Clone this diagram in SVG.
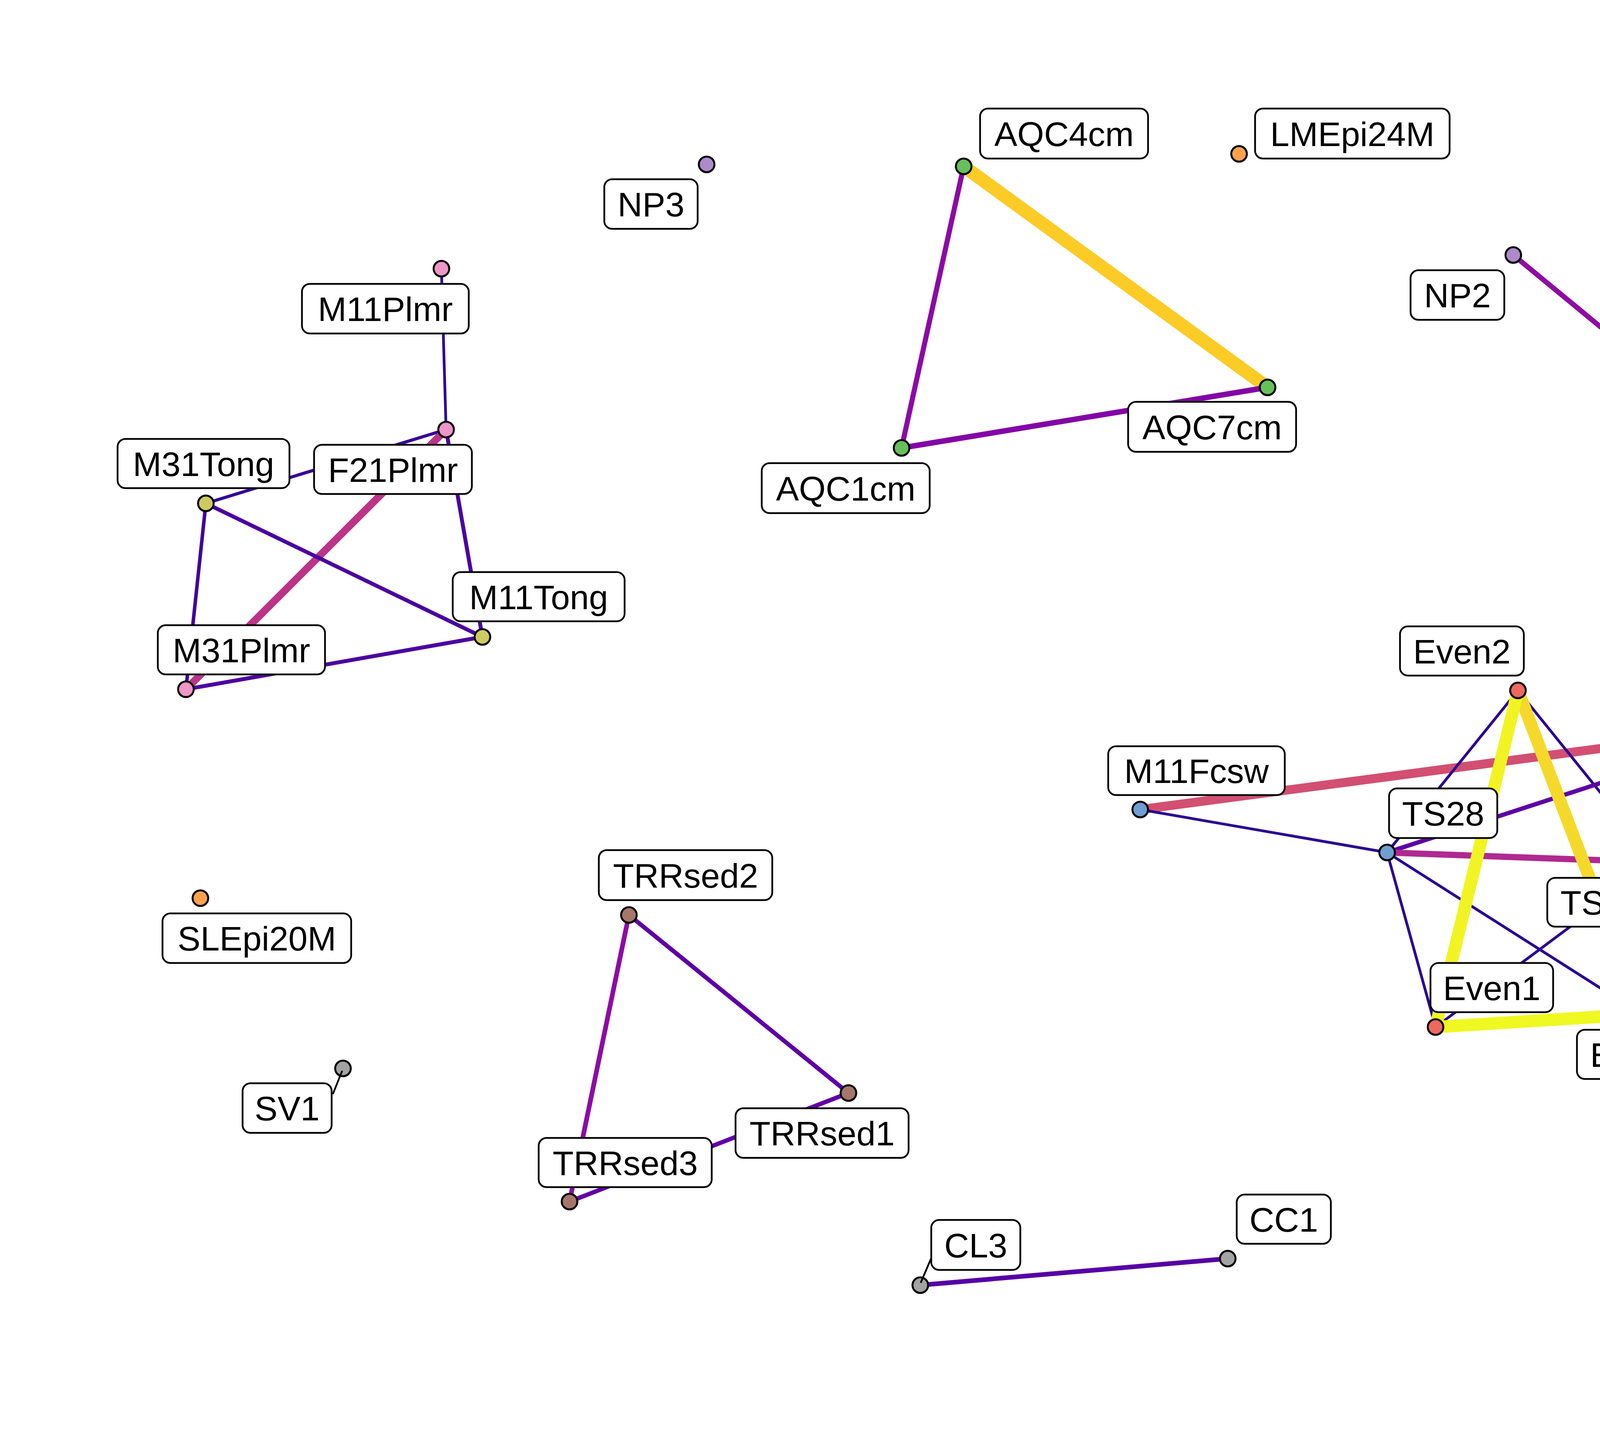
<svg xmlns="http://www.w3.org/2000/svg" width="6000" height="3708" viewBox="0 0 6000 3708">
<style>
.lbl rect{fill:#fff;stroke:#000;stroke-width:4.5}
.lbl text,.lg text{font-family:"Liberation Sans",Arial,Helvetica,sans-serif;fill:#000}
.lbl text{font-size:88px;text-anchor:middle}
.lg .title{font-size:90px}
.lg .item{font-size:72px}
.pt{stroke:#000;stroke-width:5}
.seg{stroke:#000;stroke-width:4.5;fill:none}
.e{fill:none;stroke-linecap:butt}
.feces{fill:#6F9FD0}.fresh{fill:#FFA24E}.creek{fill:#66C05B}.mock{fill:#EE6860}.ocean{fill:#AD8BC8}.sed{fill:#A7766B}.skin{fill:#EE96C8}.soil{fill:#A3A3A3}.tongue{fill:#CCCA60}
.thin{stroke:#2A0593;stroke-width:7}
</style>
<defs>
<linearGradient id="plasma" x1="0" y1="1" x2="0" y2="0">
<stop offset="0" stop-color="#0D0887"/>
<stop offset="0.1" stop-color="#41049D"/>
<stop offset="0.2" stop-color="#6A00A8"/>
<stop offset="0.3" stop-color="#8F0DA4"/>
<stop offset="0.4" stop-color="#B12A90"/>
<stop offset="0.5" stop-color="#CC4778"/>
<stop offset="0.6" stop-color="#E16462"/>
<stop offset="0.7" stop-color="#F2844B"/>
<stop offset="0.8" stop-color="#FCA636"/>
<stop offset="0.9" stop-color="#FCCE25"/>
<stop offset="1" stop-color="#F0F921"/>
</linearGradient>
</defs>
<rect x="0" y="0" width="6000" height="3708" fill="#fff"/>
<g id="edges">
<line class="e" x1="1130" y1="688" x2="1142" y2="1100" stroke="#2D0594" stroke-width="7"/>
<line class="e" x1="1142" y1="1100" x2="527" y2="1289" stroke="#350498" stroke-width="8"/>
<line class="e" x1="1142" y1="1100" x2="476" y2="1765" stroke="#BB3488" stroke-width="19"/>
<line class="e" x1="1142" y1="1100" x2="1235" y2="1631" stroke="#4A02A0" stroke-width="10"/>
<line class="e" x1="527" y1="1289" x2="1235" y2="1631" stroke="#4A02A0" stroke-width="10"/>
<line class="e" x1="527" y1="1289" x2="476" y2="1765" stroke="#3F049C" stroke-width="9"/>
<line class="e" x1="476" y1="1765" x2="1235" y2="1631" stroke="#4C02A1" stroke-width="10"/>
<line class="e" x1="2467" y1="426" x2="3245" y2="992" stroke="#FCCB26" stroke-width="34"/>
<line class="e" x1="2467" y1="426" x2="2308" y2="1147" stroke="#8B0AA5" stroke-width="13"/>
<line class="e" x1="2308" y1="1147" x2="3245" y2="992" stroke="#8305A7" stroke-width="14"/>
<line class="e" x1="3874" y1="653" x2="4426" y2="1108" stroke="#8F0DA4" stroke-width="13"/>
<line class="e" x1="2919" y1="2073" x2="4556" y2="1856" stroke="#D24F72" stroke-width="23"/>
<line class="e thin" x1="2919" y1="2073" x2="3551" y2="2183"/>
<line class="e thin" x1="3886" y1="1768" x2="3551" y2="2183"/>
<line class="e thin" x1="3886" y1="1768" x2="4241" y2="2208"/>
<line class="e thin" x1="4241" y1="2208" x2="4556" y2="1856"/>
<line class="e thin" x1="3551" y1="2183" x2="3675" y2="2630"/>
<line class="e thin" x1="3551" y1="2183" x2="4202" y2="2597"/>
<line class="e thin" x1="4241" y1="2208" x2="4202" y2="2597"/>
<line class="e thin" x1="4241" y1="2208" x2="3675" y2="2630"/>
<line class="e" x1="3551" y1="2183" x2="4556" y2="1856" stroke="#5E01A6" stroke-width="11"/>
<line class="e" x1="3551" y1="2183" x2="4241" y2="2208" stroke="#B02991" stroke-width="16"/>
<line class="e" x1="3886" y1="1768" x2="4202" y2="2597" stroke="#F5D92A" stroke-width="32"/>
<line class="e" x1="3886" y1="1768" x2="3675" y2="2630" stroke="#F1F422" stroke-width="32"/>
<line class="e" x1="3675" y1="2630" x2="4202" y2="2597" stroke="#EFF821" stroke-width="32"/>
<line class="e" x1="1610" y1="2343" x2="1458" y2="3077" stroke="#8D0BA5" stroke-width="12"/>
<line class="e" x1="1610" y1="2343" x2="2172" y2="2799" stroke="#5D01A6" stroke-width="11"/>
<line class="e" x1="1458" y1="3077" x2="2172" y2="2799" stroke="#6300A7" stroke-width="11"/>
<line class="e" x1="2356" y1="3291" x2="3143" y2="3223" stroke="#5601A4" stroke-width="12"/>
</g>
<g id="node-NP3"><circle class="pt ocean" cx="1809" cy="421" r="20"/><g class="lbl"><rect x="1547" y="459" width="239" height="127" rx="20"/><text x="1666.5" y="554">NP3</text></g></g>
<g id="node-M11Plmr"><circle class="pt skin" cx="1130" cy="688" r="20"/><g class="lbl"><rect x="773" y="727" width="427" height="127" rx="20"/><text x="986.5" y="822">M11Plmr</text></g></g>
<g id="node-F21Plmr"><circle class="pt skin" cx="1142" cy="1100" r="20"/><g class="lbl"><rect x="804" y="1139" width="404" height="126" rx="20"/><text x="1006" y="1233.5">F21Plmr</text></g></g>
<g id="node-M31Tong"><circle class="pt tongue" cx="527" cy="1289" r="20"/><g class="lbl"><rect x="301" y="1124" width="440" height="126" rx="20"/><text x="521" y="1218.5">M31Tong</text></g></g>
<g id="node-M11Tong"><circle class="pt tongue" cx="1235" cy="1631" r="20"/><g class="lbl"><rect x="1159" y="1465" width="440" height="126" rx="20"/><text x="1379" y="1559.5">M11Tong</text></g></g>
<g id="node-M31Plmr"><circle class="pt skin" cx="476" cy="1765" r="20"/><g class="lbl"><rect x="404" y="1601" width="428" height="126" rx="20"/><text x="618" y="1695.5">M31Plmr</text></g></g>
<g id="node-AQC4cm"><circle class="pt creek" cx="2467" cy="426" r="20"/><g class="lbl"><rect x="2509" y="278" width="430" height="128" rx="20"/><text x="2724" y="373.5">AQC4cm</text></g></g>
<g id="node-LMEpi24M"><circle class="pt fresh" cx="3172" cy="394" r="20"/><g class="lbl"><rect x="3213" y="278" width="498" height="128" rx="20"/><text x="3462" y="373.5">LMEpi24M</text></g></g>
<g id="node-AQC7cm"><circle class="pt creek" cx="3245" cy="992" r="20"/><g class="lbl"><rect x="2888" y="1029" width="430" height="128" rx="20"/><text x="3103" y="1124.5">AQC7cm</text></g></g>
<g id="node-AQC1cm"><circle class="pt creek" cx="2308" cy="1147" r="20"/><g class="lbl"><rect x="1950" y="1186" width="430" height="128" rx="20"/><text x="2165" y="1281.5">AQC1cm</text></g></g>
<g id="node-NP2"><circle class="pt ocean" cx="3874" cy="653" r="20"/><g class="lbl"><rect x="3611" y="692" width="240" height="127" rx="20"/><text x="3731" y="787">NP2</text></g></g>
<g id="node-NP5"><circle class="pt ocean" cx="4426" cy="1108" r="20"/><g class="lbl"><rect x="4449" y="943" width="240" height="127" rx="20"/><text x="4569" y="1038">NP5</text></g></g>
<g id="node-Even2"><circle class="pt mock" cx="3886" cy="1768" r="20"/><g class="lbl"><rect x="3584" y="1604" width="317" height="126" rx="20"/><text x="3742.5" y="1698.5">Even2</text></g></g>
<g id="node-M31Fcsw"><circle class="pt feces" cx="4556" cy="1856" r="20"/><g class="lbl"><rect x="4186" y="1896" width="452" height="126" rx="20"/><text x="4412" y="1990.5">M31Fcsw</text></g></g>
<g id="node-M11Fcsw"><circle class="pt feces" cx="2919" cy="2073" r="20"/><g class="lbl"><rect x="2837" y="1911" width="452" height="125" rx="20"/><text x="3063" y="2005">M11Fcsw</text></g></g>
<g id="node-TS28"><circle class="pt feces" cx="3551" cy="2183" r="20"/><g class="lbl"><rect x="3556" y="2019" width="277" height="127" rx="20"/><text x="3694.5" y="2114">TS28</text></g></g>
<g id="node-TS29"><circle class="pt feces" cx="4241" cy="2208" r="20"/><g class="lbl"><rect x="3961" y="2248" width="278" height="125" rx="20"/><text x="4100" y="2342">TS29</text></g></g>
<g id="node-Even1"><circle class="pt mock" cx="3675" cy="2630" r="20"/><g class="lbl"><rect x="3662" y="2466" width="314" height="126" rx="20"/><text x="3819" y="2560.5">Even1</text></g></g>
<g id="node-Even3"><circle class="pt mock" cx="4202" cy="2597" r="20"/><g class="lbl"><rect x="4037" y="2637" width="317" height="126" rx="20"/><text x="4195.5" y="2731.5">Even3</text></g></g>
<g id="node-CC1"><circle class="pt soil" cx="3143" cy="3223" r="20"/><g class="lbl"><rect x="3166" y="3059" width="241" height="126" rx="20"/><text x="3286.5" y="3153.5">CC1</text></g></g>
<g id="node-CL3"><circle class="pt soil" cx="2356" cy="3291" r="20"/><line class="seg" x1="2357" y1="3285" x2="2383" y2="3224"/><g class="lbl"><rect x="2384" y="3124" width="228" height="128" rx="20"/><text x="2498" y="3219.5">CL3</text></g></g>
<g id="node-SLEpi20M"><circle class="pt fresh" cx="513" cy="2300" r="20"/><g class="lbl"><rect x="416" y="2339" width="483" height="127" rx="20"/><text x="657.5" y="2434">SLEpi20M</text></g></g>
<g id="node-SV1"><circle class="pt soil" cx="878" cy="2736" r="20"/><line class="seg" x1="876" y1="2742" x2="852" y2="2802"/><g class="lbl"><rect x="621" y="2774" width="228" height="127" rx="20"/><text x="735" y="2869">SV1</text></g></g>
<g id="node-TRRsed2"><circle class="pt sed" cx="1610" cy="2343" r="20"/><g class="lbl"><rect x="1533" y="2177" width="444" height="128" rx="20"/><text x="1755" y="2272.5">TRRsed2</text></g></g>
<g id="node-TRRsed1"><circle class="pt sed" cx="2172" cy="2799" r="20"/><g class="lbl"><rect x="1883" y="2838" width="443" height="127" rx="20"/><text x="2104.5" y="2933">TRRsed1</text></g></g>
<g id="node-TRRsed3"><circle class="pt sed" cx="1458" cy="3077" r="20"/><g class="lbl"><rect x="1379" y="2914" width="443" height="126" rx="20"/><text x="1600.5" y="3008.5">TRRsed3</text></g></g>
<g id="legend" class="lg">
<text class="title" x="4900" y="313">SampleType</text>
<circle class="pt feces" cx="4968" cy="441" r="20"/><text class="item" x="5089" y="468">Feces</text>
<circle class="pt fresh" cx="4968" cy="585" r="20"/><text class="item" x="5089" y="612">Freshwater</text>
<circle class="pt creek" cx="4968" cy="729" r="20"/><text class="item" x="5089" y="756">Freshwater (creek)</text>
<circle class="pt mock" cx="4968" cy="873" r="20"/><text class="item" x="5089" y="900">Mock</text>
<circle class="pt ocean" cx="4968" cy="1017" r="20"/><text class="item" x="5089" y="1044">Ocean</text>
<circle class="pt sed" cx="4968" cy="1161" r="20"/><text class="item" x="5089" y="1188">Sediment (estuary)</text>
<circle class="pt skin" cx="4968" cy="1305" r="20"/><text class="item" x="5089" y="1332">Skin</text>
<circle class="pt soil" cx="4968" cy="1449" r="20"/><text class="item" x="5089" y="1476">Soil</text>
<circle class="pt tongue" cx="4968" cy="1593" r="20"/><text class="item" x="5089" y="1620">Tongue</text>
<text class="title" x="4896" y="1924">weight</text>
<rect x="4911" y="2043" width="115" height="20" fill="#000"/><text class="item" x="5088" y="2080">0.4</text>
<rect x="4911" y="2181" width="115" height="33" fill="#000"/><text class="item" x="5088" y="2224">0.6</text>
<rect x="4911" y="2318" width="115" height="46" fill="#000"/><text class="item" x="5088" y="2367">0.8</text>
<text class="title" x="4896" y="2675">weight</text>
<rect x="4896" y="2730" width="144" height="719" fill="url(#plasma)"/>
<g stroke="#fff" stroke-width="3">
<line x1="4896" y1="2854" x2="4925" y2="2854"/><line x1="5011" y1="2854" x2="5040" y2="2854"/>
<line x1="4896" y1="3052" x2="4925" y2="3052"/><line x1="5011" y1="3052" x2="5040" y2="3052"/>
<line x1="4896" y1="3250" x2="4925" y2="3250"/><line x1="5011" y1="3250" x2="5040" y2="3250"/>
</g>
<text class="item" x="5088" y="2881">0.8</text>
<text class="item" x="5088" y="3079">0.6</text>
<text class="item" x="5088" y="3277">0.4</text>
</g>
</svg>
